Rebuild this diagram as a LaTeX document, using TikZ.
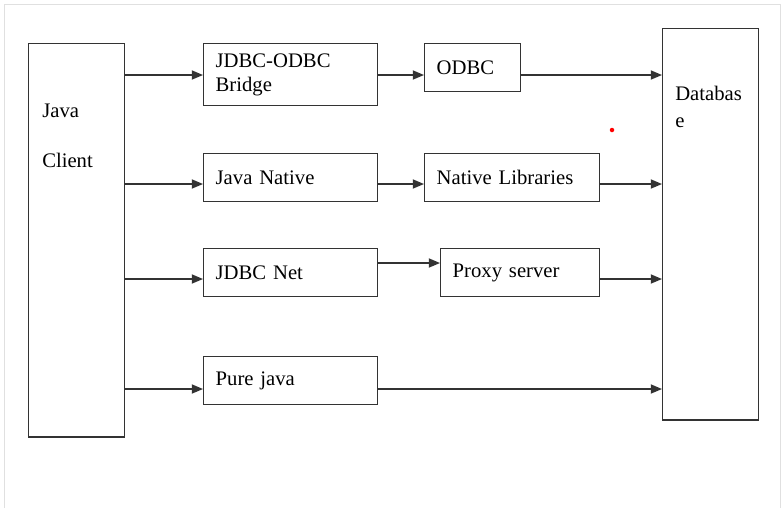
\documentclass[tikz,border=0pt]{standalone}
\usepackage{fontspec}
\setmainfont{Liberation Serif}
\usetikzlibrary{arrows.meta}

\begin{document}
\begin{tikzpicture}[x=0.025cm,y=-0.025cm,
  font=\fontsize{14.7}{17.5}\selectfont,
  box/.style={draw=black!80,line width=1pt,anchor=north west,align=left,inner xsep=0.3cm,inner ysep=0pt},
  txt/.style={anchor=base west,inner sep=0pt},
  arr/.style={draw=black!80,line width=1pt,-{Triangle[length=8pt,width=6.5pt]}}]
  \useasboundingbox (0,0) rectangle (783,508);
  % Page frame
  \draw[black!12] (4,508) -- (4,4) -- (780,4) -- (780,508);
  % Client and database
  \node[box,minimum width=2.4cm,minimum height=9.825cm] (client) at (28,43) {};
  \node[box,minimum width=2.4cm,minimum height=9.775cm] (db) at (662,28) {};
  \node[txt] (clienta) at (42,117) {Java};
  \node[txt] (clientb) at (42,167) {Client};
  \node[txt] (dba) at (675,100) {Databas};
  \node[txt] (dbb) at (675,127) {e};
  % Driver boxes
  \node[box,text width=3.75cm,minimum height=1.55cm] (bridge) at (203,43) {JDBC-ODBC\\Bridge};
  \node[box,text width=3.75cm,minimum height=1.2cm] (native) at (203,153) {Java Native};
  \node[box,text width=3.75cm,minimum height=1.2cm] (net) at (203,248) {JDBC Net};
  \node[box,text width=3.75cm,minimum height=1.2cm] (pure) at (203,356) {Pure java};
  \node[box,text width=1.8cm,minimum height=1.2cm] (odbc) at (424,43) {ODBC};
  \node[box,text width=3.775cm,minimum height=1.2cm] (natlib) at (424,153) {Native Libraries};
  \node[box,text width=3.375cm,minimum height=1.2cm] (proxy) at (440,248) {Proxy server};
  % Rows of the arrows
  \coordinate (r1) at (0,75);
  \coordinate (r2) at (0,184);
  \coordinate (r3) at (0,279);
  \coordinate (r3b) at (0,263);
  \coordinate (r4) at (0,389);
  % Client to drivers
  \foreach \b/\r in {bridge/r1,native/r2,net/r3,pure/r4} {
    \draw[arr] (client.east |- \r) -- (\b.west |- \r);
  }
  % Drivers to middle boxes
  \draw[arr] (bridge.east |- r1) -- (odbc.west |- r1);
  \draw[arr] (native.east |- r2) -- (natlib.west |- r2);
  \draw[arr] (net.east |- r3b) -- (proxy.west |- r3b);
  % Into the database
  \foreach \b/\r in {odbc/r1,natlib/r2,proxy/r3,pure/r4} {
    \draw[arr] (\b.east |- \r) -- (db.west |- \r);
  }
  % Red dot
  \fill[red] (612,130) circle (1.6pt);
\end{tikzpicture}
\end{document}
